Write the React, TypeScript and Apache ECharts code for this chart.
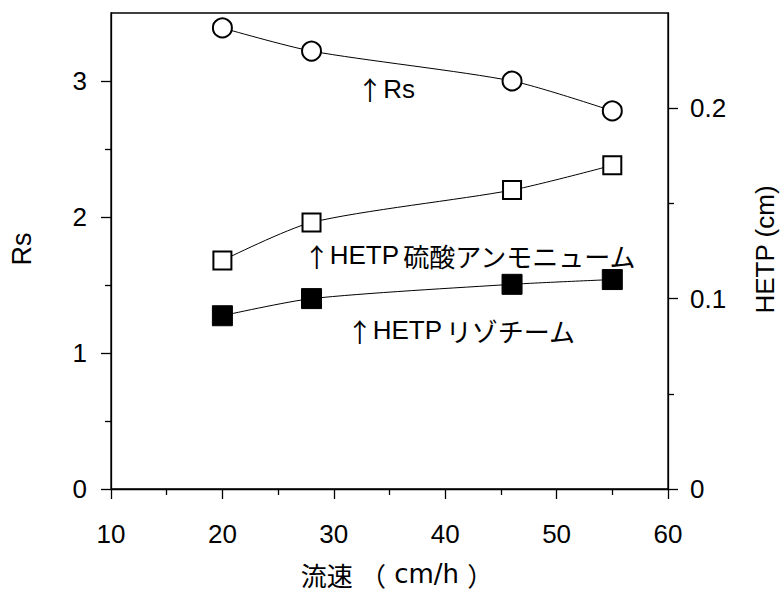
import React, { useEffect, useRef } from "react";
import * as echarts from "echarts";

// Flow rate (cm/h)
const flowRates = [20, 28, 46, 55];
// Resolution Rs (left axis)
const rsValues = [3.39, 3.22, 3.0, 2.78];
// HETP (cm), ammonium sulfate (right axis)
const hetpAmmonium = [0.12, 0.14, 0.157, 0.17];
// HETP (cm), lysozyme (right axis)
const hetpLysozyme = [0.091, 0.1, 0.1075, 0.11];

const leftTicks = [0, 1, 2, 3];
const rightTicks = [0, 0.1, 0.2];
const xTicks = [10, 20, 30, 40, 50, 60];

const xNameMain = "流速";
const xNameUnit = "cm/h";
const leftName = "Rs";
const rightName = "HETP (cm)";
const noteRs = "Rs";
const noteHetp = "HETP";
const noteAmmonium = "硫酸アンモニューム";
const noteLysozyme = "リゾチーム";

const FONT = "'Liberation Sans', 'Noto Sans CJK JP', sans-serif";
const CJK = "'Noto Sans CJK JP', sans-serif";
const WIDE = "'DejaVu Sans', 'Noto Sans CJK JP', sans-serif";

const pairs = (xs: number[], ys: number[]) => xs.map((x, i) => [x, ys[i]]);

const richNote = {
  a: { fontFamily: CJK, fontSize: 26, fill: "#000" },
  b: { fontFamily: FONT, fontSize: 26, fill: "#000" },
  c: { fontFamily: CJK, fontSize: 26, fill: "#000" },
};

export default function App() {
  const ref = useRef<HTMLDivElement>(null);

  useEffect(() => {
    if (!ref.current) return;
    const chart = echarts.init(ref.current, undefined, { renderer: "svg" });
    const axisLine = { show: true, lineStyle: { color: "#000", width: 1.3 } };
    const labelStyle = { color: "#000", fontSize: 26, fontFamily: FONT };
    chart.setOption({
      animation: false,
      backgroundColor: "#fff",
      grid: {
        left: 111,
        right: 112,
        top: 13,
        bottom: 103,
        show: true,
        borderColor: "#000",
        borderWidth: 1.3,
        containLabel: false,
      },
      xAxis: {
        type: "value",
        min: xTicks[0],
        max: xTicks[xTicks.length - 1],
        interval: 10,
        axisLine,
        axisTick: { show: true, inside: false, length: 10, lineStyle: { color: "#000", width: 1.3 } },
        minorTick: { show: true, splitNumber: 2, length: 6, lineStyle: { color: "#000", width: 1.3 } },
        axisLabel: { ...labelStyle, margin: 32 },
        splitLine: { show: false },
      },
      yAxis: [
        {
          type: "value",
          position: "left",
          min: 0,
          max: 3.5,
          interval: 1,
          axisLine,
          axisTick: {
            show: true,
            length: 10,
            customValues: leftTicks,
            lineStyle: { color: "#000", width: 1.3 },
          },
          minorTick: { show: true, splitNumber: 2, length: 6, lineStyle: { color: "#000", width: 1.3 } },
          axisLabel: { ...labelStyle, margin: 24, customValues: leftTicks },
          splitLine: { show: false },
        },
        {
          type: "value",
          position: "right",
          min: 0,
          max: 0.25,
          interval: 0.1,
          axisLine,
          axisTick: {
            show: true,
            length: 10,
            customValues: rightTicks,
            lineStyle: { color: "#000", width: 1.3 },
          },
          minorTick: { show: true, splitNumber: 2, length: 6, lineStyle: { color: "#000", width: 1.3 } },
          axisLabel: {
            ...labelStyle,
            margin: 22,
            customValues: rightTicks,
            formatter: (v: number) => (v === 0 ? "0" : String(Math.round(v * 10) / 10)),
          },
          splitLine: { show: false },
        },
      ],
      series: [
        {
          type: "line",
          name: "Rs",
          yAxisIndex: 0,
          data: pairs(flowRates, rsValues),
          smooth: 0.25,
          symbol: "circle",
          symbolSize: 19,
          lineStyle: { color: "#000", width: 1 },
          itemStyle: { color: "#fff", borderColor: "#000", borderWidth: 2 },
        },
        {
          type: "line",
          name: "HETP 硫酸アンモニューム",
          yAxisIndex: 1,
          data: pairs(flowRates, hetpAmmonium),
          smooth: 0.25,
          symbol: "rect",
          symbolSize: 18,
          lineStyle: { color: "#000", width: 1 },
          itemStyle: { color: "#fff", borderColor: "#000", borderWidth: 2 },
        },
        {
          type: "line",
          name: "HETP リゾチーム",
          yAxisIndex: 1,
          data: pairs(flowRates, hetpLysozyme),
          smooth: 0.25,
          symbol: "rect",
          symbolSize: 20,
          lineStyle: { color: "#000", width: 1 },
          itemStyle: { color: "#000", borderColor: "#000", borderWidth: 1 },
        },
      ],
      graphic: [
        {
          type: "text",
          x: 21.5,
          y: 249,
          rotation: Math.PI / 2,
          style: { text: leftName, fill: "#000", fontSize: 27, fontFamily: FONT, align: "center", verticalAlign: "middle" },
        },
        {
          type: "text",
          x: 765,
          y: 249.5,
          rotation: Math.PI / 2,
          style: { text: rightName, fill: "#000", fontSize: 26, fontFamily: FONT, align: "center", verticalAlign: "middle" },
        },
        {
          type: "text",
          x: 397,
          y: 574,
          style: {
            text: `{c|${xNameMain}}{s| }{c|（}{d| ${xNameUnit} }{c|）}`,
            rich: {
              c: { fontFamily: CJK, fontSize: 26, fill: "#000" },
              s: { fontFamily: FONT, fontSize: 26, fill: "#000" },
              d: { fontFamily: WIDE, fontSize: 26, fill: "#000" },
            },
            fill: "#000",
            align: "center",
            verticalAlign: "middle",
          },
        },
        {
          type: "text",
          x: 386,
          y: 88.5,
          style: { text: `{a|↑}{b|${noteRs}}`, rich: richNote, fill: "#000", align: "center", verticalAlign: "middle" },
        },
        {
          type: "text",
          x: 470,
          y: 255,
          style: {
            text: `{a|↑}{b|${noteHetp}} {c|${noteAmmonium}}`,
            rich: richNote,
            fill: "#000",
            align: "center",
            verticalAlign: "middle",
          },
        },
        {
          type: "text",
          x: 461,
          y: 330,
          style: {
            text: `{a|↑}{b|${noteHetp}} {c|${noteLysozyme}}`,
            rich: richNote,
            fill: "#000",
            align: "center",
            verticalAlign: "middle",
          },
        },
      ],
    });
    return () => chart.dispose();
  }, []);

  return (
    <div
      ref={ref}
      style={{ position: "absolute", left: 0, top: 0, width: 780, height: 592, background: "#fff" }}
    />
  );
}
